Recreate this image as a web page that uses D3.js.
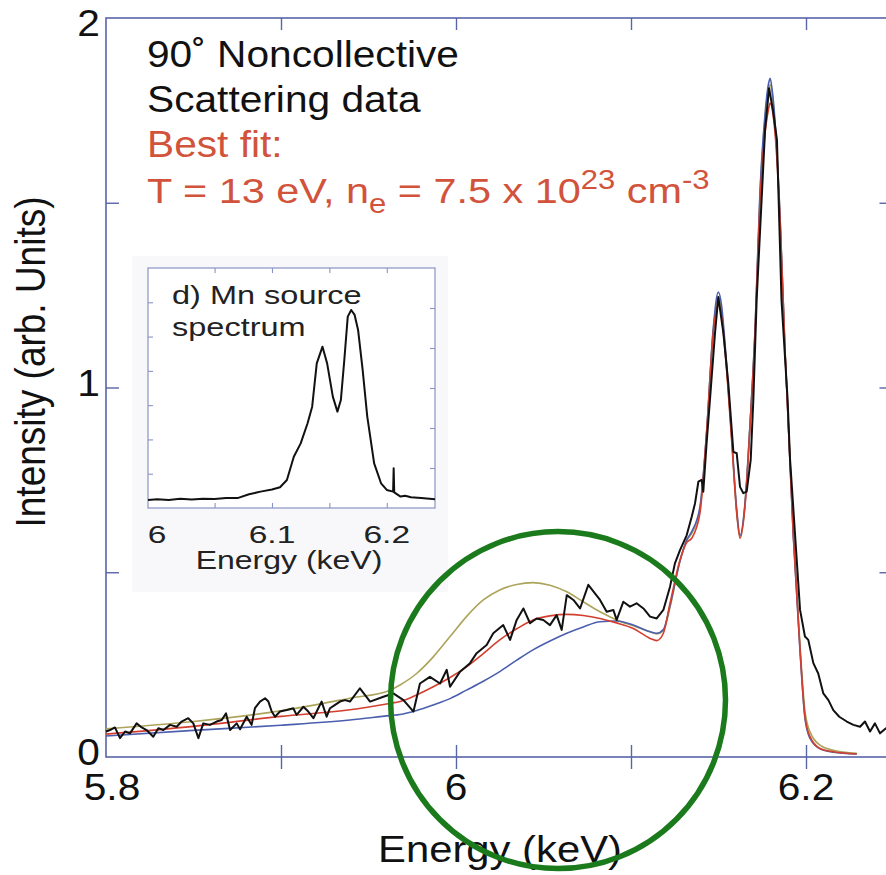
<!DOCTYPE html>
<html>
<head>
<meta charset="utf-8">
<script src="https://cdn.jsdelivr.net/npm/d3@7"></script>
<style>
body { margin: 0; background: #fff; }
svg text { font-family: "Liberation Sans", Arial, Helvetica, sans-serif; }
</style>
</head>
<body>
<svg id="chart" width="886" height="875"></svg>
<script>
// measured spectrum (black, noisy)
var dataE = [5.800, 5.8023, 5.8051, 5.808, 5.8109, 5.8137, 5.8175, 5.8204, 5.8232, 5.827, 5.8299, 5.8328, 5.8366, 5.8404, 5.8432, 5.847, 5.8499, 5.8528, 5.8556, 5.8594, 5.8632, 5.8661, 5.8686, 5.8709, 5.8747, 5.8766, 5.8804, 5.8832, 5.8851, 5.888, 5.8909, 5.8928, 5.8947, 5.8966, 5.8994, 5.9033, 5.907, 5.9089, 5.9128, 5.9156, 5.9185, 5.9213, 5.9232, 5.9261, 5.928, 5.9309, 5.9337, 5.9366,
  5.9394, 5.9451, 5.9509, 5.9585, 5.9642, 5.97, 5.9757, 5.9794, 5.9851, 5.9909, 5.9947, 5.9966, 6.0023, 6.008, 6.0118, 6.0175, 6.0213, 6.027, 6.0309, 6.0347, 6.0385, 6.0423, 6.0461, 6.0499, 6.0537, 6.0575, 6.0604, 6.0633, 6.0671, 6.0709, 6.0756, 6.0785, 6.0823, 6.0861, 6.0899, 6.0918, 6.0956, 6.0994, 6.1032, 6.1071, 6.1109, 6.1147, 6.1185, 6.1223, 6.1251, 6.128, 6.1318, 6.1347, 6.1366, 6.1385, 6.1404, 6.1413, 6.1432, 6.1451, 6.148, 6.1499, 6.1528, 6.1556, 6.1585, 6.1604, 6.1623, 6.1642, 6.1661, 6.1684, 6.1699, 6.1718, 6.1766, 6.1789, 6.1811, 6.1834, 6.186, 6.1895, 6.1909, 6.1937, 6.1966, 6.1994, 6.2013, 6.2042, 6.207, 6.2099, 6.2128, 6.2156, 6.219, 6.2233, 6.2271, 6.2309, 6.2337, 6.2366, 6.2394, 6.2423, 6.2457, 6.25];
var dataI = [0.069, 0.073, 0.080, 0.051, 0.069, 0.064, 0.091, 0.080, 0.073, 0.055, 0.078, 0.073, 0.087, 0.082, 0.096, 0.105, 0.091, 0.051, 0.091, 0.087, 0.096, 0.100, 0.118, 0.073, 0.091, 0.075, 0.109, 0.087, 0.132, 0.150, 0.159, 0.150, 0.123, 0.109, 0.123, 0.127, 0.132, 0.114, 0.136, 0.123, 0.105, 0.132, 0.150, 0.109, 0.132, 0.141, 0.150, 0.154,
  0.150, 0.186, 0.150, 0.163, 0.172, 0.154, 0.123, 0.199, 0.217, 0.199, 0.236, 0.190, 0.231, 0.254, 0.281, 0.303, 0.335, 0.357, 0.317, 0.371, 0.402, 0.362, 0.375, 0.371, 0.357, 0.384, 0.344, 0.438, 0.425, 0.402, 0.466, 0.448, 0.425, 0.393, 0.398, 0.371, 0.420, 0.407, 0.416, 0.402, 0.380, 0.375, 0.398, 0.461, 0.524, 0.560, 0.600, 0.650, 0.687, 0.745, 0.750, 0.718, 0.849, 0.966, 1.147, 1.245, 1.147, 1.011, 0.826, 0.822, 0.731, 0.714, 0.718, 0.804, 0.966, 1.237, 1.697, 1.810, 1.751, 1.670, 1.237, 0.966, 0.804, 0.605, 0.398, 0.326, 0.317, 0.254, 0.226, 0.172, 0.154, 0.127, 0.109, 0.096, 0.087, 0.082, 0.096, 0.069, 0.091, 0.064, 0.078, 0.070];

// fit curves, same energy grid
var fitE = [5.8, 5.85, 5.9, 5.9394, 5.962, 5.968, 5.9775, 5.987, 5.9966, 6.006, 6.0156, 6.025, 6.0347, 6.044, 6.0537, 6.0633, 6.0727, 6.0823, 6.0918, 6.1013, 6.1109, 6.1147, 6.1185, 6.1223, 6.128, 6.1318, 6.1347, 6.1394, 6.1432, 6.147, 6.1499, 6.1518, 6.1537, 6.1575, 6.1604, 6.1623, 6.1651, 6.168, 6.1709, 6.1737, 6.1766, 6.1785, 6.1795, 6.1808, 6.1823, 6.1851, 6.188, 6.1927, 6.1966, 6.1994, 6.2023, 6.208, 6.2156, 6.229];
var redI = [0.062, 0.083, 0.110, 0.128, 0.145, 0.150, 0.168, 0.190, 0.215, 0.244, 0.280, 0.317, 0.347, 0.371, 0.382, 0.386, 0.383, 0.375, 0.363, 0.348, 0.321, 0.315, 0.335, 0.416, 0.533, 0.580, 0.592, 0.660, 0.876, 1.147, 1.225, 1.190, 1.101, 0.858, 0.660, 0.592, 0.677, 0.894, 1.147, 1.507, 1.688, 1.751, 1.770, 1.751, 1.688, 1.462, 1.101, 0.605, 0.290, 0.109, 0.055, 0.023, 0.014, 0.008];
var blueI = [0.057, 0.072, 0.086, 0.100, 0.112, 0.115, 0.126, 0.141, 0.158, 0.181, 0.205, 0.231, 0.262, 0.290, 0.314, 0.335, 0.352, 0.366, 0.368, 0.357, 0.339, 0.335, 0.345, 0.410, 0.530, 0.587, 0.610, 0.677, 0.880, 1.160, 1.258, 1.220, 1.120, 0.870, 0.670, 0.600, 0.685, 0.900, 1.160, 1.530, 1.740, 1.820, 1.837, 1.800, 1.720, 1.470, 1.100, 0.600, 0.285, 0.105, 0.050, 0.022, 0.013, 0.008];
var oliveI = [0.076, 0.096, 0.125, 0.159, 0.180, 0.195, 0.226, 0.271, 0.326, 0.380, 0.425, 0.452, 0.467, 0.472, 0.465, 0.447, 0.420, 0.393, 0.371, 0.355, 0.339, 0.333, 0.342, 0.405, 0.532, 0.585, 0.605, 0.670, 0.878, 1.155, 1.245, 1.205, 1.110, 0.865, 0.665, 0.596, 0.680, 0.897, 1.155, 1.520, 1.725, 1.800, 1.820, 1.790, 1.710, 1.470, 1.105, 0.610, 0.300, 0.125, 0.068, 0.032, 0.018, 0.010];

// inset: Mn source spectrum
var insetE = [5.992, 6.000, 6.010, 6.020, 6.030, 6.040, 6.050, 6.060, 6.070, 6.080, 6.090, 6.100, 6.107, 6.113, 6.119, 6.125, 6.131, 6.135, 6.139, 6.144, 6.148, 6.153, 6.157, 6.160, 6.163, 6.166, 6.169, 6.172, 6.175, 6.179, 6.183, 6.189, 6.195, 6.200, 6.2055, 6.206, 6.2065, 6.212, 6.216, 6.221, 6.230, 6.242];
var insetI = [0.000, 0.004, 0.000, 0.006, 0.003, 0.007, 0.005, 0.010, 0.010, 0.030, 0.044, 0.055, 0.067, 0.105, 0.228, 0.298, 0.404, 0.491, 0.719, 0.807, 0.720, 0.544, 0.465, 0.526, 0.737, 0.965, 1.000, 0.974, 0.895, 0.684, 0.439, 0.193, 0.088, 0.053, 0.044, 0.167, 0.040, 0.018, 0.022, 0.014, 0.010, 0.004];

var xTicks = [5.9, 6.0, 6.1, 6.2];
var xTickLabels = [5.8, 6, 6.2];
var yTicks = [0.5, 1, 1.5];
var yTickLabels = [0, 1, 2];
var insetXTicks = [6.05, 6.1, 6.15, 6.2];
var insetXLabels = [6, 6.1, 6.2];
var insetLeftTicks = [1, 2, 3, 4, 5, 6];
var insetRightTicks = [1, 2, 3, 4, 5];

// annotation circle (energy, intensity, radius in keV, radius in intensity)
var ring = { e: 6.0583, i: 0.154, re: 0.0957, ri: 0.456 };

var svg = d3.select("#chart");
var axisColor = "#5865a8";
var textRed = "#d2533b";
var SX = 1.13;

function putText(parent, str, x, y, size, sx, anchor, rot) {
  var t = parent.append("text")
    .attr("transform", "translate(" + x + "," + y + ") scale(" + sx + ",1)" + (rot ? " rotate(" + rot + ")" : ""))
    .attr("font-size", size)
    .attr("text-anchor", anchor || "start")
    .attr("fill", "#111");
  if (str !== null) t.text(str);
  return t;
}

svg.append("rect").attr("width", 886).attr("height", 875).attr("fill", "#fff");

var x = d3.scaleLinear().domain([5.8, 6.25]).range([106, 893.5]);
var y = d3.scaleLinear().domain([0, 2]).range([757, 18]);

// frame
var frame = svg.append("g");
frame.append("rect")
  .attr("x", x(5.8)).attr("y", y(2))
  .attr("width", x(6.25) - x(5.8)).attr("height", y(0) - y(2))
  .attr("fill", "none").attr("stroke", axisColor).attr("stroke-width", 1.6);

function styleAxis(g) {
  g.select(".domain").remove();
  g.selectAll("line").attr("stroke", axisColor).attr("stroke-width", 1.4);
  g.selectAll("text").remove();
}
frame.append("g").attr("transform", "translate(0," + y(0) + ")")
  .call(d3.axisBottom(x).tickValues(xTicks).tickSize(12).tickFormat("")).call(styleAxis);
frame.append("g").attr("transform", "translate(0," + y(0) + ")")
  .call(d3.axisBottom(x).tickValues(xTicks).tickSize(-12).tickFormat("")).call(styleAxis);
frame.append("g").attr("transform", "translate(0," + y(2) + ")")
  .call(d3.axisTop(x).tickValues(xTicks).tickSize(-12).tickFormat("")).call(styleAxis);
frame.append("g").attr("transform", "translate(" + x(5.8) + ",0)")
  .call(d3.axisLeft(y).tickValues(yTicks).tickSize(-13).tickFormat("")).call(styleAxis);
frame.append("g").attr("transform", "translate(" + x(6.25) + ",0)")
  .call(d3.axisRight(y).tickValues(yTicks).tickSize(-14).tickFormat("")).call(styleAxis);

// tick labels
xTickLabels.forEach(function(v) {
  putText(svg, String(v), Math.max(x(v), 112), 800, 36, SX, "middle");
});
yTickLabels.forEach(function(v) {
  putText(svg, String(v), 100, Math.max(y(v) + 8, 36), 36, SX, "end");
});

// axis titles
putText(svg, "Energy (keV)", 500, 862, 37, SX, "middle");
putText(svg, "Intensity (arb. Units)", 45, 362, 37, SX, "middle", -90);

// curves
function series(E, I) { return E.map(function(e, k) { return [e, I[k]]; }); }
var smooth = d3.line().x(function(d) { return x(d[0]); }).y(function(d) { return y(d[1]); }).curve(d3.curveMonotoneX);
var raw = d3.line().x(function(d) { return x(d[0]); }).y(function(d) { return y(d[1]); });

var curves = svg.append("g");
curves.append("path").datum(series(fitE, oliveI)).attr("d", smooth)
  .attr("fill", "none").attr("stroke", "#aca45a").attr("stroke-width", 1.6);
curves.append("path").datum(series(fitE, blueI)).attr("d", smooth)
  .attr("fill", "none").attr("stroke", "#4b5fae").attr("stroke-width", 1.6);
curves.append("path").datum(series(fitE, redI)).attr("d", smooth)
  .attr("fill", "none").attr("stroke", "#d23f2f").attr("stroke-width", 1.6);
curves.append("path").datum(series(dataE, dataI)).attr("d", raw)
  .attr("fill", "none").attr("stroke", "#111").attr("stroke-width", 2)
  .attr("stroke-linejoin", "round");

// text block
var tb = svg.append("g");
putText(tb, "90\u02DA Noncollective", 147, 67, 36, SX);
putText(tb, "Scattering data", 147, 112, 36, SX);
putText(tb, "Best fit:", 147, 157, 36, SX).attr("fill", textRed);
var l4 = putText(tb, null, 147, 203, 36, 1.15).attr("fill", textRed);
l4.append("tspan").text("T = 13 eV, n");
l4.append("tspan").text("e").attr("font-size", 27).attr("dy", 10);
l4.append("tspan").text(" = 7.5 x 10").attr("dy", -10);
l4.append("tspan").text("23").attr("font-size", 27).attr("dy", -14);
l4.append("tspan").text(" cm").attr("dy", 14);
l4.append("tspan").text("-3").attr("font-size", 27).attr("dy", -14);

// inset
var ix = d3.scaleLinear().domain([5.992, 6.242]).range([148, 435]);
var iy = d3.scaleLinear().domain([0, 1]).range([500, 310]);
var iBoxTop = 268, iBoxBot = 508;
var itL = d3.scaleLinear().domain([0, 7]).range([iBoxBot, iBoxTop]);
var itR = d3.scaleLinear().domain([0, 6]).range([iBoxBot, iBoxTop]);
var insetLine = d3.line().x(function(d) { return ix(d[0]); }).y(function(d) { return iy(d[1]); });
var inset = svg.append("g");
inset.append("rect").attr("x", 132).attr("y", 256).attr("width", 316).attr("height", 336)
  .attr("fill", "#f8f8fa");
inset.append("rect").attr("x", ix(5.992)).attr("y", iBoxTop)
  .attr("width", ix(6.242) - ix(5.992)).attr("height", iBoxBot - iBoxTop)
  .attr("fill", "#fff").attr("stroke", "#8a93c4").attr("stroke-width", 1.2);
function styleInset(g) {
  g.select(".domain").remove();
  g.selectAll("line").attr("stroke", "#8a93c4").attr("stroke-width", 1.1);
  g.selectAll("text").remove();
}
inset.append("g").attr("transform", "translate(0," + iBoxBot + ")")
  .call(d3.axisBottom(ix).tickValues(insetXTicks).tickSize(-5).tickFormat("")).call(styleInset);
inset.append("g").attr("transform", "translate(0," + iBoxTop + ")")
  .call(d3.axisTop(ix).tickValues(insetXTicks).tickSize(-5).tickFormat("")).call(styleInset);
inset.append("g").attr("transform", "translate(" + ix(5.992) + ",0)")
  .call(d3.axisLeft(itL).tickValues(insetLeftTicks).tickSize(-5).tickFormat("")).call(styleInset);
inset.append("g").attr("transform", "translate(" + ix(6.242) + ",0)")
  .call(d3.axisRight(itR).tickValues(insetRightTicks).tickSize(-5).tickFormat("")).call(styleInset);

inset.append("path").datum(series(insetE, insetI)).attr("d", insetLine)
  .attr("fill", "none").attr("stroke", "#111").attr("stroke-width", 2)
  .attr("stroke-linejoin", "round");

insetXLabels.forEach(function(v) {
  putText(inset, String(v), ix(v), 543, 24, 1.4, "middle").attr("fill", "#222");
});
putText(inset, "Energy (keV)", 289, 569, 25, 1.28, "middle").attr("fill", "#222");
putText(inset, "d) Mn source", 172, 304, 25, 1.3).attr("fill", "#222");
putText(inset, "spectrum", 172, 336, 25, 1.3).attr("fill", "#222");

// green annotation ring
svg.append("ellipse")
  .attr("cx", x(ring.e)).attr("cy", y(ring.i))
  .attr("rx", x(ring.e + ring.re) - x(ring.e))
  .attr("ry", y(ring.i) - y(ring.i + ring.ri))
  .attr("fill", "none").attr("stroke", "#1b7a1b").attr("stroke-width", 5.5);
</script>
</body>
</html>
